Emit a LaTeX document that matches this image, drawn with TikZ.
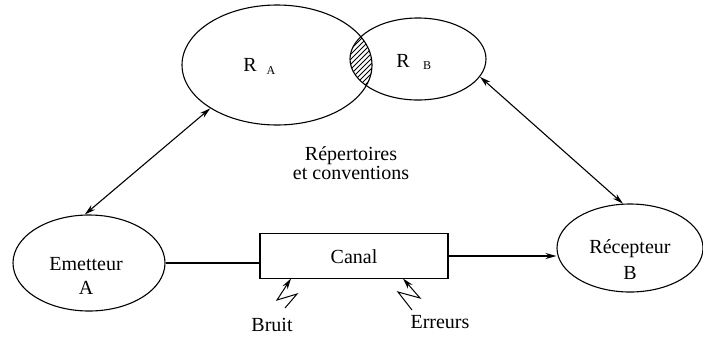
\documentclass[tikz,border=0pt]{standalone}
\usepackage{fontspec}
\setmainfont{Liberation Serif}
\usetikzlibrary{shapes.geometric,arrows.meta,calc}
\begin{document}
\begin{tikzpicture}[x=1pt,y=-1pt,
  line width=1.1pt,
  oval/.style={draw,ellipse,inner sep=0pt},
  lbl/.style={font=\fontsize{20}{22}\selectfont,inner sep=0pt},
  sub/.style={font=\fontsize{12}{13}\selectfont,inner sep=0pt},
  tip/.style={-{Stealth[length=11pt,width=6pt]}},
  dtip/.style={{Stealth[length=11pt,width=6pt]}-{Stealth[length=11pt,width=6pt]}}]
\useasboundingbox (0,0) rectangle (703,338);

% repertoire ellipses and their shared part
\node[oval,minimum width=190pt,minimum height=120pt] (ra) at (277,65) {};
\node[oval,minimum width=136pt,minimum height=82pt] (rb) at (418,59) {};
\begin{scope}
  \clip (277,65) ellipse [x radius=95, y radius=60];
  \clip (418,59) ellipse [x radius=68, y radius=41];
  \foreach \i in {240,245,...,420} \draw[line width=0.8pt] (\i,110) -- (\i+100,10);
\end{scope}
\node[lbl] (raR) at (250,65) {R};
\node[sub] (raA) at (271,71) {A};
\node[lbl] (rbR) at (403,61) {R};
\node[sub] (rbB) at (427,66) {B};

\node[lbl,align=center] (rep) at (351,163) {Répertoires\\[-3pt]et conventions};

% sender, channel, receiver
\node[oval,minimum width=152pt,minimum height=96pt] (em) at (89,263) {};
\node[lbl] (emT) at (86,264) {Emetteur};
\node[lbl] (emA) at (86,288) {A};
\node[oval,minimum width=146pt,minimum height=88pt] (rc) at (630,248) {};
\node[lbl] (rcT) at (630,249) {Récepteur};
\node[lbl] (rcB) at (630,273) {B};
\node[draw,rectangle,minimum width=188pt,minimum height=45pt,inner sep=0pt] (canal) at (354,256) {};
\node[lbl] (canalT) at (354,257) {Canal};

\draw (em.east) -- (em.east -| canal.west);
\draw[tip] (canal.east) -- (canal.east -| rc.west);

% links to the repertoires
\draw[dtip] (em.95) -- (ra.213);
\draw[dtip] (rc.99) -- (rb.344);

% disturbances
\coordinate (b0) at (285,308);
\coordinate (b1) at (297,294);
\coordinate (b2) at (277,300);
\coordinate (b3) at (291,278.5);
\draw[tip,line width=1pt] (b0) -- (b1) -- (b2) -- (b3);
\coordinate (e0) at (412,310);
\coordinate (e1) at (398,292);
\coordinate (e2) at (420,298);
\coordinate (e3) at (403,278.5);
\draw[tip,line width=1pt] (e0) -- (e1) -- (e2) -- (e3);
\node[lbl] (bruit) at (272,325) {Bruit};
\node[lbl] (err) at (440,322) {Erreurs};
\end{tikzpicture}
\end{document}
